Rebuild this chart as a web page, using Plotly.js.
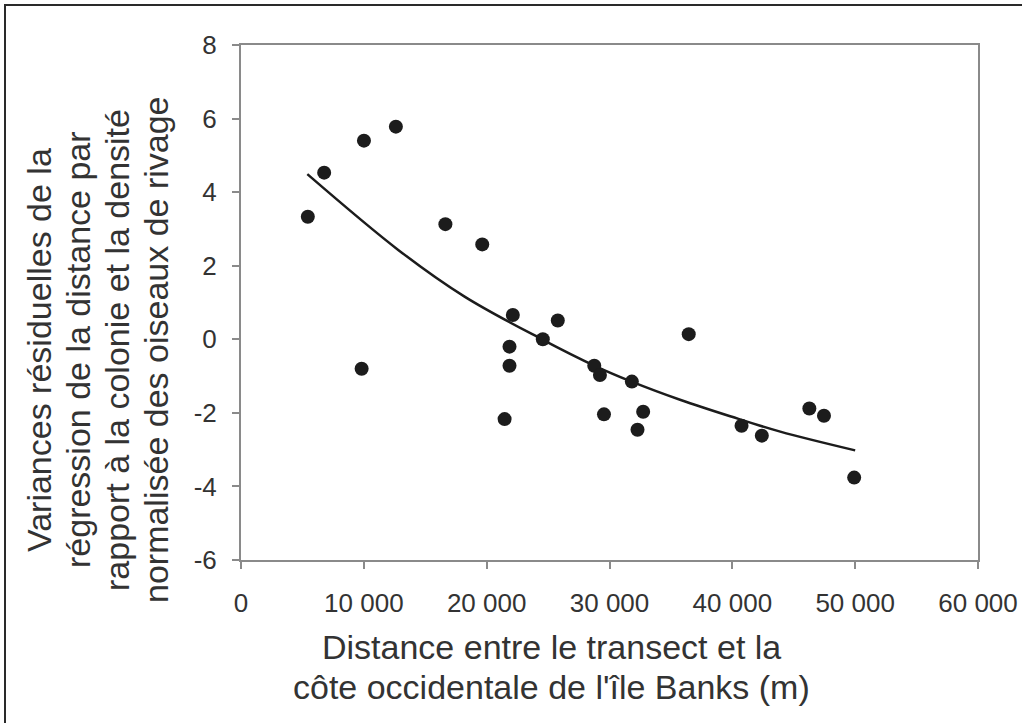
<!DOCTYPE html>
<html>
<head>
<meta charset="utf-8">
<script src="https://cdn.plot.ly/plotly-3.0.1.min.js"></script>
<style>
  html, body { margin: 0; padding: 0; background: #fff; }
  #wrap { position: relative; width: 1022px; height: 723px; overflow: hidden; }
  #chart { width: 1022px; height: 723px; }
  #frame { position: absolute; left: 4px; top: 4px; width: 1100px; height: 800px;
           border-left: 2px solid #2a2a2a; border-top: 2px solid #2a2a2a; pointer-events: none; }
</style>
</head>
<body>
<div id="wrap">
  <div id="chart"></div>
  <div id="frame"></div>
</div>
<script>
// Observed points: distance (m) vs residual variance
const distance = [5440, 6770, 10010, 9820, 12610, 16640, 19640, 22130, 21860, 21860,
                  21460, 24570, 25790, 28760, 29220, 29550, 31820, 32280, 32740, 36450,
                  40750, 42400, 46270, 47460, 49920];
const residual = [3.33, 4.53, 5.40, -0.80, 5.78, 3.13, 2.58, 0.66, -0.20, -0.72,
                  -2.17, 0.00, 0.51, -0.72, -0.97, -2.04, -1.15, -2.46, -1.97, 0.14,
                  -2.35, -2.62, -1.88, -2.08, -3.76];

// Fitted curve
const fitX = [5400, 12800, 18200, 24500, 28800, 31800, 35800, 39900, 43900, 50000];
const fitY = [4.49, 2.43, 1.16, 0.00, -0.72, -1.15, -1.65, -2.10, -2.51, -3.02];

// Tick labels
const xTickVals = [0, 10000, 20000, 30000, 40000, 50000, 60000];
const xTickText = ['0', '10 000', '20 000', '30 000', '40 000', '50 000', '60 000'];
const yTickVals = [-6, -4, -2, 0, 2, 4, 6, 8];
const yTickText = ['-6', '-4', '-2', '0', '2', '4', '6', '8'];

const xTitleLines = ["Distance entre le transect et la", "côte occidentale de l'île Banks (m)"];
const yTitleLines = ["Variances résiduelles de la", "régression de la distance par",
                     "rapport à la colonie et la densité", "normalisée des oiseaux de rivage"];

const W = 1022, H = 723;
const L = 241, R = 978, T = 45, B = 560;
const px2x = p => (p - L) / (R - L);
const py2y = p => (B - p) / (B - T);

const FONT = 'Liberation Sans, Arial, sans-serif';
const axisGrey = '#8a8a8a';
const ink = '#1c1c1c';

const traces = [
  {
    x: fitX, y: fitY, type: 'scatter', mode: 'lines',
    line: { color: ink, width: 2.5, shape: 'spline', smoothing: 1 },
    hoverinfo: 'skip', showlegend: false
  },
  {
    x: distance, y: residual, type: 'scatter', mode: 'markers',
    marker: { color: ink, size: 14 },
    showlegend: false
  }
];

const annotations = [];
const xLineY = [647, 687];
xTitleLines.forEach((t, i) => annotations.push({
  text: t, xref: 'paper', yref: 'paper', x: px2x(551), y: py2y(xLineY[i]),
  xanchor: 'center', yanchor: 'middle', showarrow: false,
  font: { family: FONT, size: 34, color: '#333' }
}));
const yLineX = [39, 78, 117, 156];
yTitleLines.forEach((t, i) => annotations.push({
  text: t, xref: 'paper', yref: 'paper', x: px2x(yLineX[i]), y: py2y(350),
  xanchor: 'center', yanchor: 'middle', showarrow: false, textangle: -90,
  font: { family: FONT, size: 34, color: '#333' }
}));

const layout = {
  width: W, height: H,
  margin: { l: L, r: W - R, t: T, b: H - B, pad: 0 },
  paper_bgcolor: '#fff', plot_bgcolor: '#fff',
  font: { family: FONT, color: '#333' },
  xaxis: {
    range: [0, 60000], tickvals: xTickVals, ticktext: xTickText,
    showgrid: false, zeroline: false,
    showline: true, linecolor: axisGrey, linewidth: 2, mirror: true,
    ticks: 'outside', ticklen: 7, tickwidth: 2, tickcolor: axisGrey,
    ticklabelstandoff: 12,
    tickfont: { family: FONT, size: 26, color: '#333' }
  },
  yaxis: {
    range: [-6, 8], tickvals: yTickVals, ticktext: yTickText,
    showgrid: false, zeroline: false,
    showline: true, linecolor: axisGrey, linewidth: 2, mirror: true,
    ticks: 'outside', ticklen: 7, tickwidth: 2, tickcolor: axisGrey,
    ticklabelstandoff: 10,
    tickfont: { family: FONT, size: 26, color: '#333' }
  },
  annotations: annotations,
  showlegend: false
};

Plotly.newPlot('chart', traces, layout, { displayModeBar: false, staticPlot: true });
</script>
</body>
</html>
